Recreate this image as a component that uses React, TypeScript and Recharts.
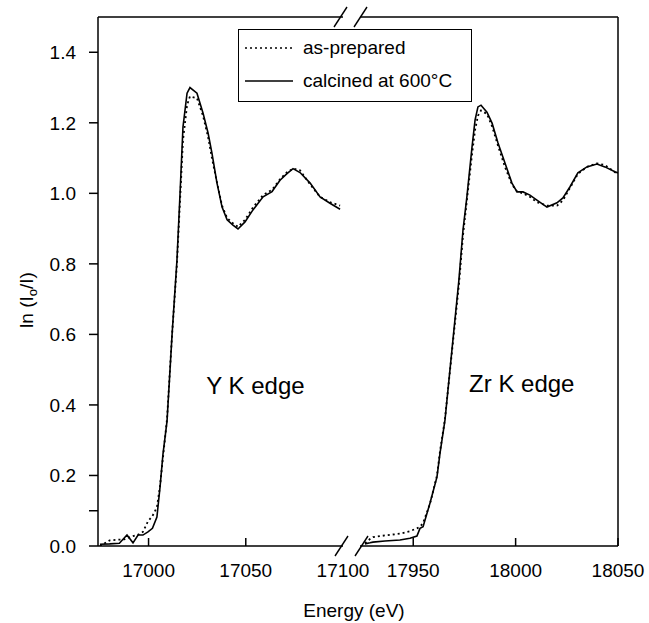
import * as React from "react";
import {
  LineChart,
  Line,
  XAxis,
  YAxis,
  ReferenceLine,
  ReferenceDot,
  Legend,
} from "recharts";

// Y K edge (eV) and absorbance ln(I0/I)
const yEdgeEnergy = [
  16975, 16980, 16985, 16987, 16988.9, 16992, 16994.6, 16997.1, 16999.7, 17002,
  17004.3, 17005.9, 17007.4, 17009.5, 17012.1, 17014.6, 17016.2, 17017.7, 17019.8, 17021.3,
  17024.9, 17028, 17030.6, 17032.6, 17035.2, 17037.8, 17040.4, 17043.4, 17046, 17049.6,
  17053.7, 17058.9, 17063.5, 17067.6, 17071.2, 17074.3, 17077.9, 17083.1, 17088.2, 17093.3,
  17098.5,
];
const yEdgePrepared = [
  0.0, 0.016, 0.018, 0.018, 0.022, 0.028, 0.032, 0.04, 0.07, 0.085,
  0.11, 0.17, 0.25, 0.36, 0.6, 0.8, 0.98, 1.15, 1.25, 1.275,
  1.27, 1.22, 1.16, 1.1, 1.03, 0.965, 0.93, 0.915, 0.905, 0.925,
  0.96, 0.995, 1.01, 1.04, 1.06, 1.07, 1.065, 1.025, 0.99, 0.975,
  0.965,
];
const yEdgeCalcined = [
  0.005, 0.006, 0.008, 0.02, 0.031, 0.009, 0.031, 0.031, 0.04, 0.05,
  0.082, 0.167, 0.26, 0.354, 0.6, 0.81, 1.0, 1.188, 1.284, 1.3,
  1.284, 1.228, 1.171, 1.114, 1.029, 0.961, 0.925, 0.91, 0.899, 0.919,
  0.953, 0.99, 1.005, 1.037, 1.056, 1.07, 1.059, 1.029, 0.99, 0.972,
  0.955,
];

// Zr K edge
const zrEdgeEnergy = [
  17926.4, 17928.9, 17930.3, 17936.2, 17943.5, 17948.4, 17951.8, 17953.3, 17954.8, 17958.2,
  17961.6, 17963.1, 17965.5, 17968.9, 17972.3, 17974.3, 17976.2, 17978.7, 17980.2, 17981.6,
  17983.1, 17986, 17988.5, 17991.4, 17994.8, 17998.2, 18000.7, 18003.6, 18007, 18010.4,
  18015.3, 18020.2, 18023.1, 18026.5, 18030.4, 18034.8, 18039.7, 18043.6, 18048.5, 18050,
];
const zrEdgePrepared = [
  0.008, 0.02, 0.025, 0.03, 0.035, 0.042, 0.05, 0.055, 0.065, 0.12,
  0.2, 0.27, 0.36, 0.55, 0.74, 0.88, 0.98, 1.11, 1.18, 1.22,
  1.235, 1.225, 1.19, 1.135, 1.075, 1.025, 1.005, 1.0, 0.99, 0.975,
  0.965, 0.965, 0.98, 1.015, 1.055, 1.075, 1.085, 1.08, 1.06, 1.055,
];
const zrEdgeCalcined = [
  0.006, 0.009, 0.011, 0.014, 0.017, 0.022, 0.028, 0.05, 0.055, 0.122,
  0.196, 0.264, 0.357, 0.556, 0.754, 0.896, 0.99, 1.131, 1.208, 1.245,
  1.25, 1.23, 1.199, 1.143, 1.086, 1.029, 1.004, 1.004, 0.995, 0.981,
  0.961, 0.973, 0.987, 1.018, 1.058, 1.075, 1.083, 1.075, 1.061, 1.058,
];

const yTicks = [0, 0.1, 0.2, 0.4, 0.6, 0.8, 1.0, 1.2, 1.4];
const leftTicks = [17000, 17050, 17100];
const rightTicks = [17950, 18000, 18050];

const SERIES = [
  { key: "prepared", name: "as-prepared", dash: "2 3" },
  { key: "calcined", name: "calcined at 600°C", dash: undefined as string | undefined },
];

const FONT = "'Liberation Sans', Arial, Helvetica, sans-serif";
const H = 623;
const MARGIN = { top: 17, right: 0, bottom: 47, left: 0 };
const TICK_LEN = 8;
const TICK_GAP = 18;
const TICK_FONT = 19;

const yRows = yEdgeEnergy.map((e, i) => ({
  e,
  prepared: yEdgePrepared[i],
  calcined: yEdgeCalcined[i],
}));
const zrRows = zrEdgeEnergy.map((e, i) => ({
  e,
  prepared: zrEdgePrepared[i],
  calcined: zrEdgeCalcined[i],
}));

function EnergyTick(props: any) {
  const { x, y, payload, skip } = props;
  return (
    <g>
      {payload.value !== skip && (
        <line
          x1={x}
          x2={x}
          y1={y - TICK_GAP - TICK_LEN}
          y2={y - TICK_GAP}
          stroke="#000"
          strokeWidth={1.5}
        />
      )}
      <text x={x} y={y} dy="0.71em" textAnchor="middle" fontSize={TICK_FONT} fill="#000">
        {payload.value}
      </text>
    </g>
  );
}

function LegendBox({ payload }: any) {
  return (
    <div
      style={{
        border: "1.5px solid #000",
        background: "#fff",
        boxSizing: "border-box",
        height: 73,
        padding: "1px 0 0 6px",
        fontFamily: FONT,
        fontSize: 19,
        color: "#000",
      }}
    >
      {(payload ?? []).map((p: any) => {
        const s = SERIES.find((d) => d.name === p.value);
        return (
          <div key={p.value} style={{ display: "flex", alignItems: "center", height: 33 }}>
            <svg width={50} height={10} style={{ marginRight: 8 }}>
              <line
                x1={0}
                x2={48}
                y1={5}
                y2={5}
                stroke="#000"
                strokeWidth={1.6}
                strokeDasharray={s?.dash}
              />
            </svg>
            <span>{p.value}</span>
          </div>
        );
      })}
    </div>
  );
}

function seriesLines() {
  return SERIES.map((s) => (
    <Line
      key={s.key}
      type="linear"
      dataKey={s.key}
      name={s.name}
      stroke="#000"
      strokeWidth={s.dash ? 1.8 : 1.6}
      strokeDasharray={s.dash}
      dot={false}
      activeDot={false}
      isAnimationActive={false}
    />
  ));
}

export default function App() {
  return (
    <div
      style={{
        position: "absolute",
        left: 0,
        top: 0,
        width: 649,
        height: H,
        background: "#fff",
        fontFamily: FONT,
      }}
    >
      <div style={{ position: "absolute", left: 0, top: 0 }}>
        <LineChart width={370} height={H} data={yRows} margin={{ ...MARGIN, right: 27 }}>
          <XAxis
            type="number"
            dataKey="e"
            domain={[16974, 17100]}
            allowDataOverflow
            ticks={leftTicks}
            height={30}
            tickLine={false}
            tickSize={TICK_LEN}
            tickMargin={TICK_GAP - TICK_LEN}
            tick={<EnergyTick skip={17100} />}
            axisLine={{ stroke: "#000", strokeWidth: 1.5 }}
          />
          <YAxis
            type="number"
            domain={[0, 1.5]}
            allowDataOverflow
            ticks={yTicks}
            width={98}
            interval={0}
            tickSize={9}
            tickMargin={13}
            tickFormatter={(v: number) => (Math.abs(v - 0.1) < 1e-6 ? "" : v.toFixed(1))}
            tick={{ fill: "#000", fontSize: TICK_FONT }}
            tickLine={{ stroke: "#000", strokeWidth: 1.5 }}
            axisLine={{ stroke: "#000", strokeWidth: 1.5 }}
          />
          <ReferenceLine y={1.5} stroke="#000" strokeWidth={1.5} ifOverflow="visible" />
          {seriesLines()}
          <ReferenceDot
            x={17055}
            y={0.454}
            r={0}
            fill="none"
            stroke="none"
            label={{ value: "Y K edge", position: "center", fontSize: 24, fill: "#000" }}
          />
          <Legend
            layout="horizontal"
            verticalAlign="middle"
            align="center"
            wrapperStyle={{ left: 238, top: 29, width: 234, height: 73 }}
            content={LegendBox}
          />
        </LineChart>
      </div>

      <div style={{ position: "absolute", left: 360, top: 0 }}>
        <LineChart width={289} height={H} data={zrRows} margin={{ ...MARGIN, right: 31 }}>
          <XAxis
            type="number"
            dataKey="e"
            domain={[17924, 18050]}
            allowDataOverflow
            ticks={rightTicks}
            height={30}
            tickLine={false}
            tickSize={TICK_LEN}
            tickMargin={TICK_GAP - TICK_LEN}
            tick={<EnergyTick />}
            axisLine={{ stroke: "#000", strokeWidth: 1.5 }}
          />
          <YAxis type="number" domain={[0, 1.5]} allowDataOverflow hide />
          <ReferenceLine y={1.5} stroke="#000" strokeWidth={1.5} ifOverflow="visible" />
          <ReferenceLine x={18050} stroke="#000" strokeWidth={1.5} ifOverflow="visible" />
          {seriesLines()}
          <ReferenceDot
            x={18003}
            y={0.462}
            r={0}
            fill="none"
            stroke="none"
            label={{ value: "Zr K edge", position: "center", fontSize: 24, fill: "#000" }}
          />
        </LineChart>
      </div>

      {/* axis break marks and titles */}
      <svg
        width={649}
        height={H}
        style={{ position: "absolute", left: 0, top: 0, pointerEvents: "none" }}
      >
        <g stroke="#000" strokeWidth={1.4}>
          <line x1={334} y1={27} x2={347} y2={7} />
          <line x1={354} y1={27} x2={367} y2={7} />
          <line x1={335} y1={556} x2={348} y2={536} />
          <line x1={355} y1={556} x2={368} y2={536} />
        </g>
        <text x={354} y={617} textAnchor="middle" fontSize={19} fill="#000">
          Energy (eV)
        </text>
        <text transform="translate(33,300) rotate(-90)" textAnchor="middle" fontSize={19} fill="#000">
          ln (I
          <tspan dy={4} fontSize={13}>o</tspan>
          <tspan dy={-4}>/I)</tspan>
        </text>
      </svg>
    </div>
  );
}
